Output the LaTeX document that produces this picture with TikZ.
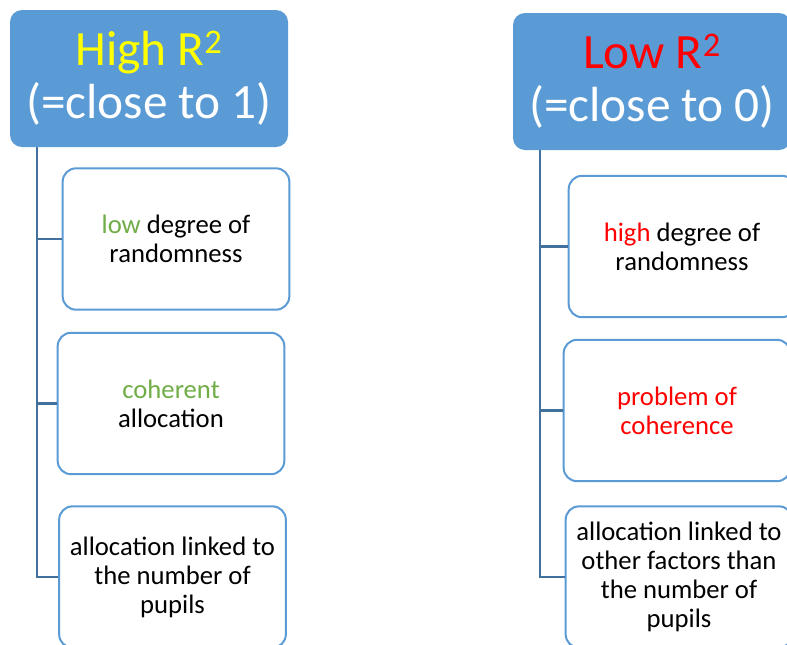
\documentclass[tikz,border=0pt]{standalone}
\usepackage{fontspec}
\setmainfont{Carlito}
\usepackage{xcolor}
\usetikzlibrary{calc}
\definecolor{headblue}{HTML}{5B9BD5}
\definecolor{linkblue}{HTML}{41719C}
\definecolor{goodgreen}{HTML}{70AD47}
\definecolor{badred}{HTML}{FF0000}
\definecolor{highyellow}{HTML}{FFFF00}

\begin{document}
\begin{tikzpicture}[x=0.75pt,y=-0.75pt,
  headbox/.style={fill=headblue,draw=none,rounded corners=9pt,minimum width=208.5pt,minimum height=102.75pt,align=center,text=white,font=\fontsize{37}{40}\selectfont},
  itembox/.style={draw=headblue,fill=white,line width=1.5pt,rounded corners=10pt,minimum width=170pt,minimum height=106pt,align=center,font=\fontsize{20}{21.8}\selectfont},
  link/.style={draw=linkblue,line width=1.6pt}
]
\path[use as bounding box] (0,0) rectangle (787,644);
\clip (0,0) rectangle (787,644);

% Headers
\node[headbox] (hhigh) at (149,78.5) {{\color{highyellow}High R\textsuperscript{2}}\\(=close to 1)};
\node[headbox] (hlow) at (652,81.5) {{\color{badred}Low R\textsuperscript{2}}\\(=close to 0)};

% Left column
\node[itembox] (lrand) at (176,239) {{\color{goodgreen}low} degree of\\randomness};
\node[itembox] (lcoh) at (171,403.5) {{\color{goodgreen}coherent}\\allocation};
\node[itembox] (lpup) at (172.5,577) {allocation linked to\\the number of\\pupils};

% Right column
\node[itembox] (rrand) at (682,246.5) {{\color{badred}high} degree of\\randomness};
\node[itembox] (rcoh) at (677,410.5) {{\color{badred}problem of}\\{\color{badred}coherence}};
\node[itembox] (rpup) at (679,577) {allocation linked to\\other factors than\\the number of\\pupils};

% Tree links
\coordinate (ltrunk) at ($(hhigh.south west)+(27,0)$);
\coordinate (rtrunk) at ($(hlow.south west)+(27,0)$);
\draw[link] (ltrunk) |- (lrand.west);
\draw[link] (ltrunk) |- (lcoh.west);
\draw[link] (ltrunk) |- (lpup.west);
\draw[link] (rtrunk) |- (rrand.west);
\draw[link] (rtrunk) |- (rcoh.west);
\draw[link] (rtrunk) |- (rpup.west);

\end{tikzpicture}
\end{document}
